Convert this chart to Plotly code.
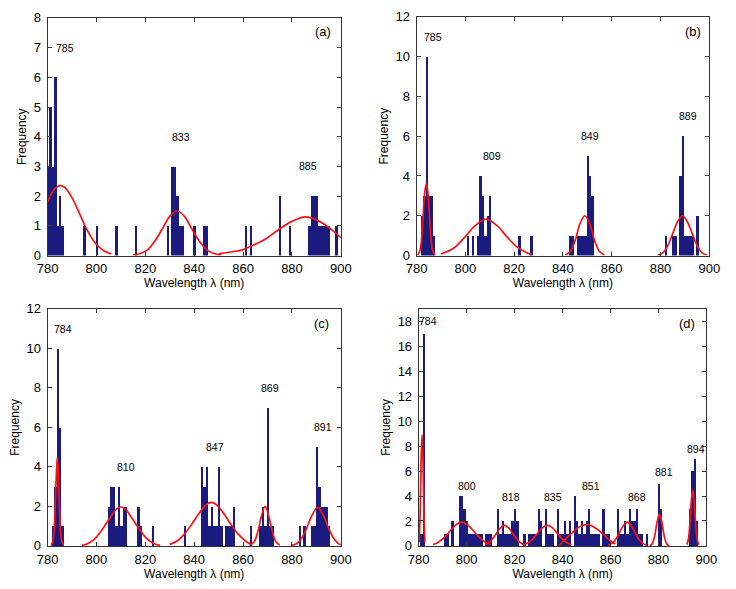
import plotly.graph_objects as go

# ---------------- data ----------------
X_TICKS = [780, 800, 820, 840, 860, 880, 900]

# Panel (a)
A_WL = [780, 781, 782, 783, 784, 785, 786, 795, 800, 808, 816, 829, 831, 832, 833, 834, 835,
        840, 844, 845, 861, 863, 875, 879, 887, 888, 889, 890, 891, 892, 893, 894, 895, 898]
A_CNT = [3, 5, 3, 6, 1, 2, 1, 1, 1, 1, 1, 1, 3, 3, 2, 1, 1,
         1, 1, 1, 1, 1, 2, 1, 1, 2, 2, 2, 1, 1, 1, 1, 1, 1]
A_FIT_X = [[780, 782, 784, 785.5, 787, 790, 793, 796, 800, 803, 806],
           [815, 818, 821, 824, 827, 830, 833, 836, 839, 842, 845, 848, 851],
           [850, 855, 860, 865, 870, 875, 880, 885.5, 890, 895, 900]]
A_FIT_Y = [[1.8, 2.15, 2.32, 2.35, 2.3, 1.95, 1.43, 0.89, 0.37, 0.16, 0.05],
           [0.02, 0.07, 0.2, 0.5, 0.9, 1.32, 1.5, 1.32, 0.9, 0.5, 0.2, 0.07, 0.02],
           [0.06, 0.12, 0.2, 0.38, 0.6, 0.9, 1.15, 1.3, 1.2, 0.95, 0.6]]
A_LBL = ["785", "833", "885"]
A_LBL_X = [787, 834.5, 886.7]
A_LBL_Y = [7, 4, 3]

# Panel (b)
B_WL = [782, 783, 784, 785, 786, 787, 801, 803, 805, 806, 807, 808, 809, 810, 822, 827,
        843, 844, 846, 847, 848, 849, 850, 851, 852, 882, 885, 886, 888, 889, 890, 891, 892, 893, 895]
B_CNT = [2, 3, 10, 3, 3, 1, 1, 1, 1, 4, 3, 1, 2, 3, 1, 1,
         1, 1, 1, 1, 1, 1, 5, 4, 3, 1, 1, 1, 4, 6, 1, 1, 1, 1, 2]
B_FIT_X = [[780.5, 781.5, 782.5, 783.3, 784, 784.7, 785.5, 786.5, 787.5],
           [790, 795, 800, 804, 808.5, 813, 817, 821, 825, 827],
           [841, 843, 845, 847, 849, 851, 853, 855, 857],
           [879, 881, 883, 885, 887, 889, 891, 893, 895, 897, 899]]
B_FIT_Y = [[0.02, 0.3, 1.6, 3.1, 3.6, 3.1, 1.6, 0.3, 0.02],
           [0.08, 0.35, 0.95, 1.5, 1.83, 1.5, 0.95, 0.45, 0.15, 0.05],
           [0.03, 0.2, 0.75, 1.6, 2.0, 1.6, 0.75, 0.2, 0.03],
           [0.03, 0.15, 0.5, 1.1, 1.7, 2.0, 1.7, 1.1, 0.5, 0.15, 0.03]]
B_LBL = ["785", "809", "849", "889"]
B_LBL_X = [786.8, 810.9, 851, 891.1]
B_LBL_Y = [11, 5, 6, 7]

# Panel (c)
C_WL = [782, 783, 784, 785, 786, 805, 806, 807, 808, 809, 810, 811, 812, 817, 818, 823,
        836, 843, 844, 845, 846, 847, 848, 849, 850, 851, 853, 854, 855, 856,
        863, 867, 868, 869, 870, 871, 872, 883, 885, 888, 889, 890, 891, 892, 893, 894, 895]
C_CNT = [1, 3, 10, 6, 1, 2, 3, 3, 1, 3, 1, 2, 2, 2, 1, 1,
         1, 4, 3, 4, 1, 2, 1, 1, 4, 1, 1, 1, 1, 2,
         1, 1, 2, 1, 7, 1, 1, 1, 1, 1, 1, 5, 3, 2, 2, 2, 1]
C_FIT_X = [[781.5, 782.3, 783, 783.5, 784, 784.5, 785, 785.7, 786.5],
           [794, 797, 800, 803, 806, 808, 810, 812, 814, 817, 820, 823, 826],
           [830, 833, 836, 839, 842, 845, 847, 849, 852, 855, 858, 861, 863],
           [863, 864.5, 866, 867.5, 869, 870.5, 872, 873.5, 875],
           [880, 882, 884, 886, 888, 890.5, 893, 895, 897, 899, 900]]
C_FIT_Y = [[0.02, 0.3, 1.6, 3.3, 4.5, 3.3, 1.6, 0.3, 0.02],
           [0.03, 0.15, 0.45, 0.95, 1.5, 1.85, 1.97, 1.85, 1.5, 0.95, 0.45, 0.15, 0.03],
           [0.08, 0.25, 0.6, 1.1, 1.65, 2.1, 2.2, 2.1, 1.65, 1.1, 0.6, 0.25, 0.08],
           [0.05, 0.2, 0.7, 1.5, 2.0, 1.5, 0.7, 0.2, 0.05],
           [0.03, 0.12, 0.4, 0.9, 1.5, 1.95, 1.5, 0.9, 0.4, 0.12, 0.06]]
C_LBL = ["784", "810", "847", "869", "891"]
C_LBL_X = [786.2, 812, 848.6, 870.9, 892.7]
C_LBL_Y = [11, 4, 5, 8, 6]

# Panel (d)
D_WL = [781, 782,
        791, 792, 794, 797, 798, 799, 800, 801, 802, 803, 804, 805, 806, 808, 809, 810,
        813, 814, 815, 816, 817, 818, 819, 820, 821,
        824, 826, 827, 828, 829, 830, 831, 833, 834, 835, 836, 838, 839, 840, 841, 842, 843,
        845, 846, 847, 848, 849, 850, 851, 852, 853, 854, 855, 857, 858, 859,
        863, 864, 865, 866, 867, 868, 869, 870, 871, 872, 873, 875,
        880, 881, 893, 894, 895, 896]
D_CNT = [1, 17,
         1, 1, 2, 4, 4, 3, 2, 1, 1, 1, 1, 1, 1, 1, 1, 1,
         3, 1, 2, 1, 1, 1, 2, 3, 2,
         1, 1, 1, 1, 1, 3, 2, 3, 1, 1, 1, 3, 1, 1, 2, 1, 2,
         4, 2, 1, 2, 1, 2, 3, 1, 1, 1, 1, 3, 1, 1,
         3, 1, 1, 2, 1, 3, 2, 2, 3, 1, 1, 1,
         5, 3, 3, 6, 7, 2]
D_FIT_X = [[780.2, 780.6, 781, 781.4, 781.8, 782.2, 782.6],
           [786, 788, 790, 792, 794, 796, 798, 800, 802, 804, 806, 808, 810],
           [807.8, 809.8, 811.8, 813.8, 815.8, 817.8, 819.8, 821.8, 823.8],
           [823.7, 825.7, 827.7, 829.7, 831.7, 833.7, 835.7, 837.7, 839.7, 841.7, 843.7],
           [838.5, 840, 842, 844, 846, 848, 850, 852, 854, 856, 858, 860, 862],
           [859, 861, 863, 865, 867, 869, 871, 873, 875],
           [876.4, 877.4, 878.4, 879.4, 880.4, 881.4, 882.4, 883.4, 884.4],
           [891.8, 892.3, 892.8, 893.3, 893.8, 894.3, 894.8, 895.3, 895.8, 896.3, 896.8]]
D_FIT_Y = [[0.3, 2.5, 6.8, 8.9, 6.8, 2.5, 0.3],
           [0.12, 0.28, 0.56, 0.95, 1.4, 1.76, 1.9, 1.76, 1.4, 0.95, 0.56, 0.28, 0.12],
           [0.1, 0.34, 0.82, 1.39, 1.65, 1.39, 0.82, 0.34, 0.1],
           [0.09, 0.26, 0.59, 1.04, 1.47, 1.65, 1.47, 1.04, 0.59, 0.26, 0.09],
           [0.05, 0.3, 0.7, 1.05, 1.4, 1.62, 1.7, 1.62, 1.4, 1.1, 0.75, 0.4, 0.15],
           [0.05, 0.26, 0.78, 1.52, 1.9, 1.52, 0.78, 0.26, 0.05],
           [0.02, 0.18, 0.78, 1.9, 2.55, 1.9, 0.78, 0.18, 0.02],
           [0.1, 0.38, 1.1, 2.4, 3.81, 4.45, 3.81, 2.4, 1.1, 0.38, 0.1]]
D_LBL = ["784", "800", "818", "835", "851", "868", "881", "894"]
D_LBL_X = [784, 800.2, 818.4, 835.9, 852, 870.9, 882.3, 895.8]
D_LBL_Y = [18, 4.8, 3.9, 3.9, 4.8, 3.9, 5.9, 7.8]

PANEL_TAGS = ["(a)", "(b)", "(c)", "(d)"]
Y_RANGES = [[0, 8], [0, 12], [0, 12], [0, 19]]
Y_TICKS = [list(range(0, 9)), list(range(0, 13, 2)), list(range(0, 13, 2)), list(range(0, 19, 2))]

# ---------------- styling / layout ----------------
BAR_COLOR = "#1B1A7F"
FIT_COLOR = "#FF1010"
FONT = "Liberation Sans, Arial, sans-serif"

X_DOMAINS = [[0.0512, 0.462], [0.568, 0.978], [0.0512, 0.462], [0.571, 0.974]]
Y_DOMAINS = [[0.567, 0.981], [0.567, 0.983], [0.0611, 0.474], [0.0611, 0.474]]
TAG_POS = [(892.8, 7.54), (893.2, 11.27), (892.2, 11.26), (892.1, 17.8)]

panels = [
    (A_WL, A_CNT, A_FIT_X, A_FIT_Y, A_LBL, A_LBL_X, A_LBL_Y),
    (B_WL, B_CNT, B_FIT_X, B_FIT_Y, B_LBL, B_LBL_X, B_LBL_Y),
    (C_WL, C_CNT, C_FIT_X, C_FIT_Y, C_LBL, C_LBL_X, C_LBL_Y),
    (D_WL, D_CNT, D_FIT_X, D_FIT_Y, D_LBL, D_LBL_X, D_LBL_Y),
]

fig = go.Figure()
annotations = []
layout_axes = {}

for i, (wl, cnt, fx, fy, lbl, lx, ly) in enumerate(panels):
    n = "" if i == 0 else str(i + 1)
    xa, ya = "x" + n, "y" + n
    fig.add_trace(go.Bar(x=wl, y=cnt, width=1.0, xaxis=xa, yaxis=ya,
                         marker=dict(color=BAR_COLOR, line=dict(width=0)),
                         showlegend=False))
    for cx, cy in zip(fx, fy):
        fig.add_trace(go.Scatter(x=cx, y=cy, mode="lines", xaxis=xa, yaxis=ya,
                                 line=dict(color=FIT_COLOR, width=1.7, shape="spline", smoothing=1.0),
                                 showlegend=False))
    for t, x, y in zip(lbl, lx, ly):
        annotations.append(dict(x=x, y=y, xref=xa, yref=ya, text=t, showarrow=False,
                                font=dict(size=10.5, color="black", family=FONT)))
    tx, ty = TAG_POS[i]
    annotations.append(dict(x=tx, y=ty, xref=xa, yref=ya, text=PANEL_TAGS[i], showarrow=False,
                            font=dict(size=13, color="black", family=FONT)))
    common = dict(showline=True, linecolor="#333333", linewidth=1, mirror="ticks",
                  ticks="inside", ticklen=4, tickcolor="#333333", showgrid=False,
                  zeroline=False, tickfont=dict(size=13, family=FONT, color="black"))
    layout_axes["xaxis" + n] = dict(domain=X_DOMAINS[i], anchor=ya, range=[780, 900],
                                    tickvals=X_TICKS, ticklabelstandoff=1,
                                    title=dict(text="Wavelength λ (nm)", standoff=2,
                                               font=dict(size=12, family=FONT, color="black")),
                                    **common)
    layout_axes["yaxis" + n] = dict(domain=Y_DOMAINS[i], anchor=xa, range=Y_RANGES[i],
                                    tickvals=Y_TICKS[i], ticklabelstandoff=3,
                                    title=dict(text="Frequency", standoff=4,
                                               font=dict(size=12, family=FONT, color="black")),
                                    **common)

fig.update_layout(width=736, height=589, autosize=False,
                  margin=dict(l=0, r=0, t=0, b=0),
                  paper_bgcolor="white", plot_bgcolor="white",
                  barmode="overlay", bargap=0,
                  font=dict(family=FONT, color="black"),
                  annotations=annotations, **layout_axes)

fig.write_html("out.html", config={"displayModeBar": False},
               post_script="document.body.style.margin='0';document.body.style.overflow='hidden';")
